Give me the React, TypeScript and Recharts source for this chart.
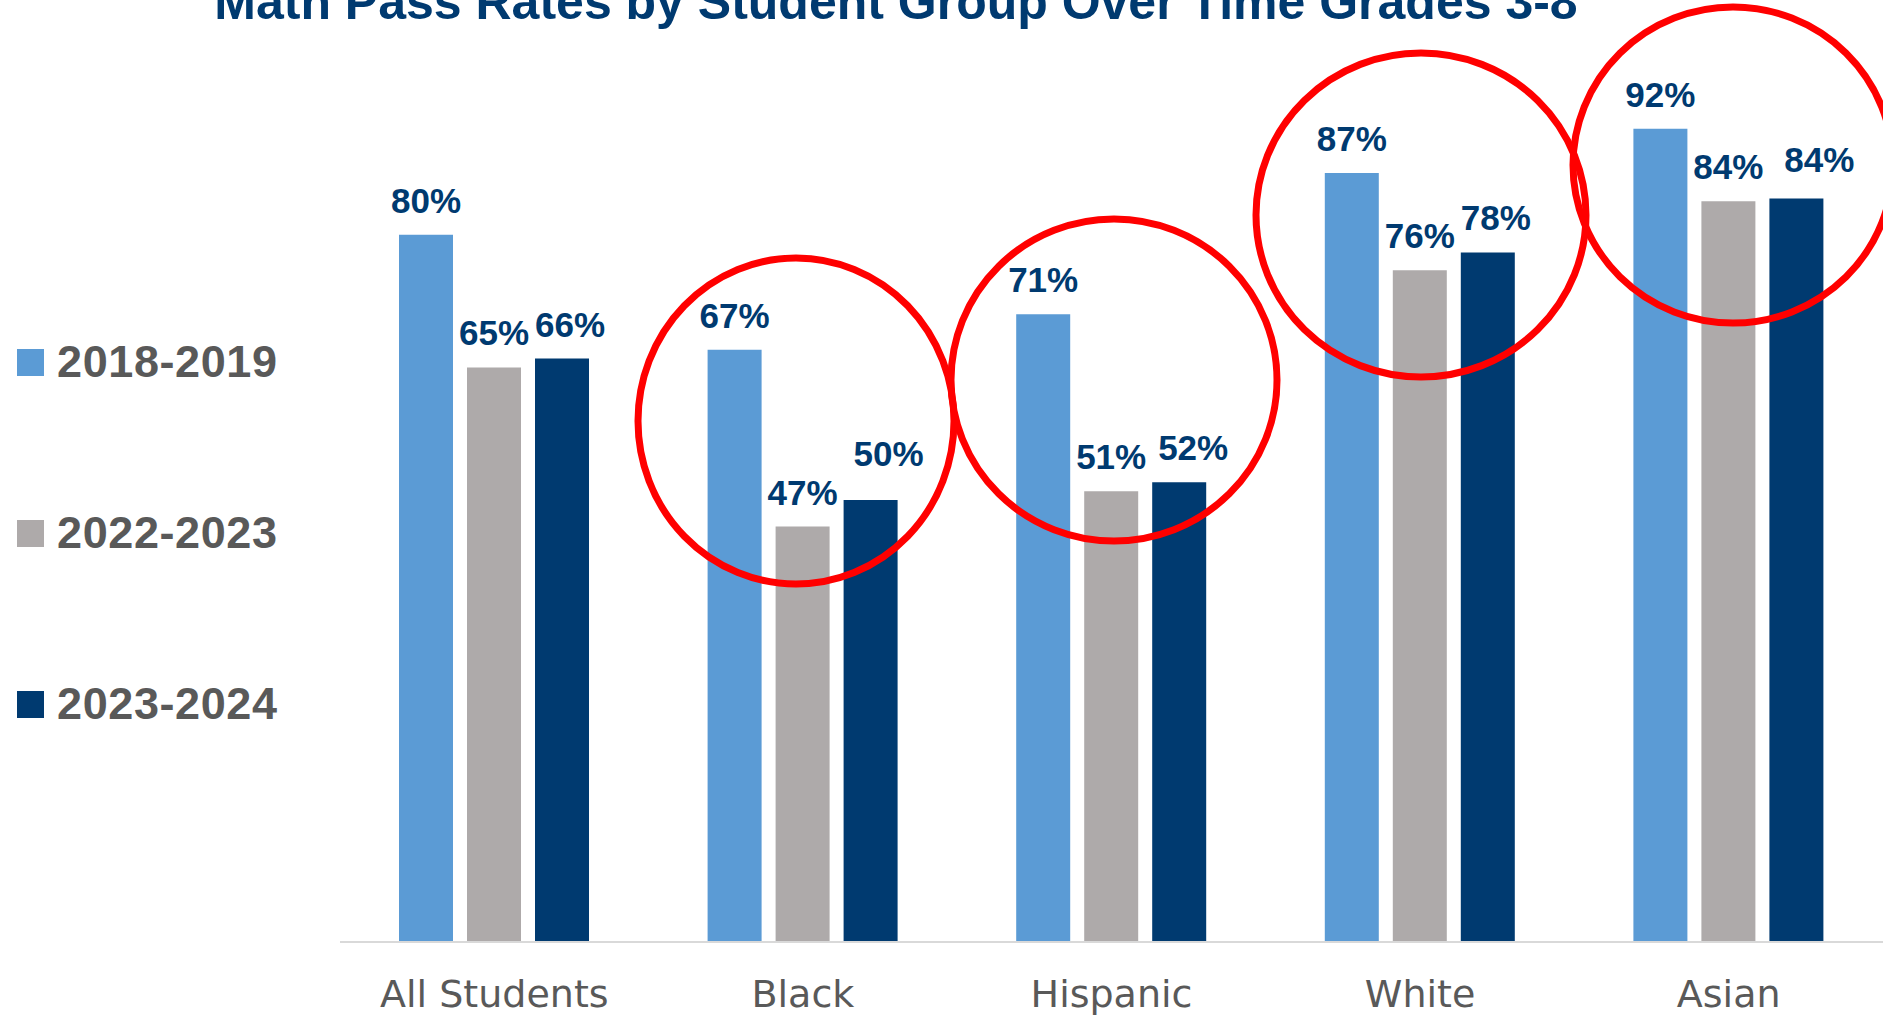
import React from 'react';
import { BarChart, Bar, XAxis, YAxis, LabelList } from 'recharts';

const groups = ['All Students', 'Black', 'Hispanic', 'White', 'Asian'];
const rates2018 = [80, 67, 71, 87, 92];
const rates2022 = [65, 47, 51, 76, 83.8];
const rates2023 = [66, 50, 52, 78, 84.1];

const seriesNames = ['2018-2019', '2022-2023', '2023-2024'];
const seriesKeys = ['y2018', 'y2022', 'y2023'];
const COLORS = ['#5b9bd5', '#aeaaaa', '#003a70'];

// the 2023-2024 labels are nudged aside like in the original deck
const lastLabelDx = [8, 18, 14, 8, 23];
const lastLabelDy = [0, -12, 0, 0, -5];

const TITLE = 'Math Pass Rates by Student Group Over Time Grades 3-8';
const LABEL_COLOR = '#003a70';
const TEXT_GRAY = '#595959';

const data = groups.map((group, i) => ({
  group,
  y2018: rates2018[i],
  y2022: rates2022[i],
  y2023: rates2023[i],
}));

// red highlight rings drawn over the chart
const rings = [
  { cx: 796, cy: 421, rx: 158, ry: 163 },
  { cx: 1114, cy: 380, rx: 163, ry: 161 },
  { cx: 1421, cy: 215, rx: 165, ry: 162 },
  { cx: 1733, cy: 165, rx: 160, ry: 158 },
];

const makeLabel = (seriesIndex: number) => (props: any) => {
  const { x, y, width, value, index } = props;
  const last = seriesIndex === seriesKeys.length - 1;
  const dx = last ? lastLabelDx[index] || 0 : 0;
  const dy = last ? lastLabelDy[index] || 0 : 0;
  return (
    <text
      x={Number(x) + Number(width) / 2 + dx}
      y={Number(y) - 22 + dy}
      textAnchor="middle"
      fill={LABEL_COLOR}
      fontFamily="'Liberation Sans', Arial, sans-serif"
      fontWeight={700}
      fontSize={35}
    >
      {Math.round(Number(value))}%
    </text>
  );
};

const renderTick = (props: any) => {
  const { x, y, payload } = props;
  return (
    <text
      x={x}
      y={y}
      dy={65}
      textAnchor="middle"
      fill={TEXT_GRAY}
      fontFamily="'DejaVu Sans', sans-serif"
      fontSize={38}
    >
      {payload.value}
    </text>
  );
};

const App: React.FC = () => {
  return (
    <div style={{ position: 'absolute', left: 0, top: 0, width: 1883, height: 1015, background: '#fff', overflow: 'hidden' }}>
      <BarChart
        width={1883}
        height={1015}
        data={data}
        margin={{ top: 58, right: 0, bottom: 0, left: 340 }}
        barSize={54}
        barGap={14}
      >
        <XAxis
          dataKey="group"
          interval={0}
          height={73}
          tickLine={false}
          tickSize={0}
          tickMargin={0}
          axisLine={{ stroke: '#d9d9d9', strokeWidth: 2 }}
          tick={renderTick}
        />
        <YAxis hide domain={[0, 100]} />
        {seriesKeys.map((key, i) => (
          <Bar key={key} dataKey={key} name={seriesNames[i]} fill={COLORS[i]} isAnimationActive={false}>
            <LabelList dataKey={key} content={makeLabel(i)} />
          </Bar>
        ))}
      </BarChart>

      {/* Legend */}
      <div style={{ position: 'absolute', left: 0, top: 0 }}>
        {seriesNames.map((name, i) => (
          <div key={name} style={{ position: 'absolute', left: 17, top: 337 + i * 171, width: 300, height: 50 }}>
            <div style={{ position: 'absolute', left: 0, top: 12, width: 27, height: 27, background: COLORS[i] }} />
            <div
              style={{
                position: 'absolute',
                left: 40,
                top: 0,
                fontFamily: "'Liberation Sans', Arial, sans-serif",
                fontWeight: 700,
                fontSize: 45,
                lineHeight: '50px',
                letterSpacing: 0.6,
                color: TEXT_GRAY,
                whiteSpace: 'nowrap',
              }}
            >
              {name}
            </div>
          </div>
        ))}
      </div>

      {/* Title and highlight rings */}
      <svg width={1883} height={1015} style={{ position: 'absolute', left: 0, top: 0, pointerEvents: 'none' }}>
        <text
          x={896}
          y={19}
          textAnchor="middle"
          fill={LABEL_COLOR}
          fontFamily="'Liberation Sans', Arial, sans-serif"
          fontWeight={700}
          fontSize={50}
        >
          {TITLE}
        </text>
        {rings.map((r, i) => (
          <ellipse key={i} cx={r.cx} cy={r.cy} rx={r.rx} ry={r.ry} fill="none" stroke="#ff0000" strokeWidth={7} />
        ))}
      </svg>
    </div>
  );
};

export default App;
